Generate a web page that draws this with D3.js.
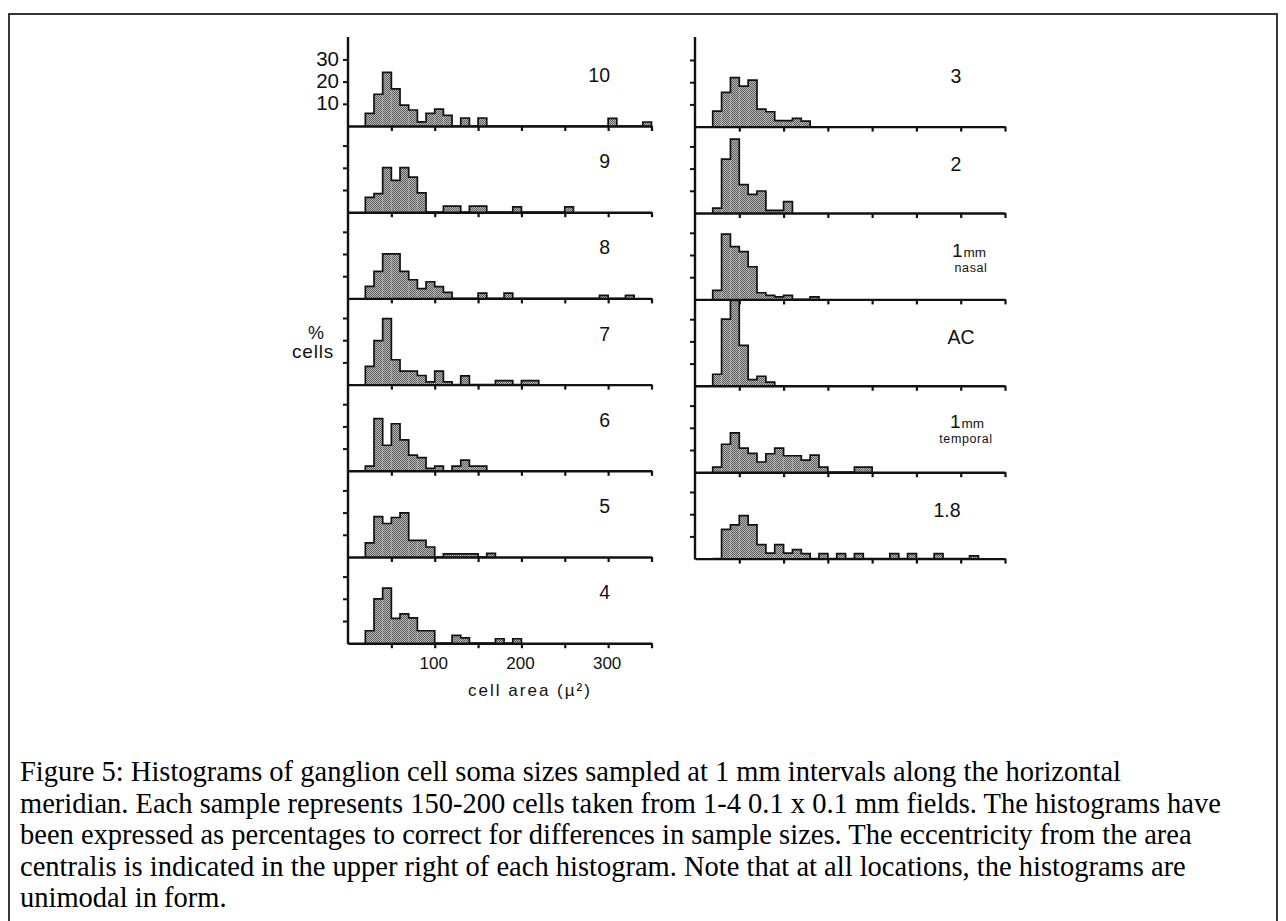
<!DOCTYPE html>
<html><head><meta charset="utf-8">
<script src="https://cdn.jsdelivr.net/npm/d3@7"></script>
<style>
html,body{margin:0;padding:0;background:#fff;}
svg{display:block;}
</style></head>
<body>
<svg id="chart" width="1286" height="921"></svg>
<script>
// ---------- DATA (percent of cells per 10 µ² bin, first bin = 20-30 µ²) ----------
const binWidth = 10;
const firstBin = 20;
const pct10 = [5.7,14.3,24.2,16.7,9.4,7.2,1.9,5.7,7.6,4.8,0,3.6,0,3.6,0,0,0,0,0,0,0,0,0,0,0,0,0,0,3.4,0,0,0,1.8];
const pct9  = [6.7,8.4,20.1,14.3,20.1,15.8,8.7,0,0,2.7,2.7,0,2.7,2.7,0,0,0,2.4,0,0,0,0,0,2.4];
const pct8  = [5.4,12.2,20.1,20.1,12.2,8.4,4.4,7.5,5.3,2.7,0,0,0,2.4,0,0,2.4,0,0,0,0,0,0,0,0,0,0,1.4,0,0,1.4];
const pct7  = [8.2,19.8,29.7,11.2,6.1,6.1,4.1,1.2,6.1,1.2,0,3.9,0,0,0,1.8,1.8,0,1.8,1.8];
const pct6  = [2.1,23.5,11.5,21.2,13.9,7.1,5.9,1.1,2.1,0,2.1,4.8,2.1,2.1];
const pct5  = [6.4,18.2,15.1,17.8,19.9,7.5,7.5,4.5,0,1.4,1.4,1.4,1.4,0,1.6];
const pct4  = [5.6,20,24.8,11.2,13.2,11.4,5.6,5.6,0,0,3.5,2.4,0,0,0,2,0,2];
const pct3  = [7,15.4,22.1,18.2,20.9,7.9,6.7,2.7,2.7,3.7,2.5];
const pct2  = [2.2,24.3,33.3,12.8,8.4,9.9,1.2,1.2,5.1];
const pct1nasal = [4.1,29.4,23.8,21.5,14.7,3.0,1.8,1.1,1.8,0,0,1.1];
const pctAC = [5.2,30,38.5,18.2,2.8,4.3,1.7];
const pct1temporal = [2.3,12.6,17.7,10.8,8.5,4.6,8.3,10.8,7.4,7.4,5.4,7.7,2.3,0,0,0,2.3,2.3];
const pct18 = [0,13.2,15.2,19.4,15.2,6.3,2.5,6.3,2.5,4,2.2,0,2.2,0,2.2,0,2.2,0,0,0,2.2,0,2.2,0,0,2.2,0,0,0,1.2];

const leftSeries = [pct10, pct9, pct8, pct7, pct6, pct5, pct4];
const rightSeries = [pct3, pct2, pct1nasal, pctAC, pct1temporal, pct18];
const leftLabels = ["10","9","8","7","6","5","4"];
const rightLabels = ["3","2","1mm nasal","AC","1mm temporal","1.8"];

const xDomain = [0, 350];
const yTickValues = [10, 20, 30];
const xTickValues = [50,100,150,200,250,300,350];
const xTickLabels = [100,200,300];
const yTitle = ["%", "cells"];
const xTitle = "cell area (\u00B5\u00B2)";
const captionLines = [
  "Figure 5: Histograms of ganglion cell soma sizes sampled at 1 mm intervals along the horizontal",
  "meridian. Each sample represents 150-200 cells taken from 1-4 0.1 x 0.1 mm fields. The histograms have",
  "been expressed as percentages to correct for differences in sample sizes. The eccentricity from the area",
  "centralis is indicated in the upper right of each histogram. Note that at all locations, the histograms are",
  "unimodal in form."
];

// ---------- LAYOUT ----------
const SANS = "'Liberation Sans', Arial, Helvetica, sans-serif";
const SERIF = "'Liberation Serif', 'Times New Roman', serif";
const INK = "#111";
const unit10 = 22.2;       // px per 10 %

const svg = d3.select("#chart");
const defs = svg.append("defs");
const pat = defs.append("pattern").attr("id","stip").attr("width",2).attr("height",2)
  .attr("patternUnits","userSpaceOnUse");
pat.append("rect").attr("width",2).attr("height",2).attr("fill","#b8b8b8");
pat.append("rect").attr("width",1).attr("height",1).attr("fill","#5c5c5c");
pat.append("rect").attr("x",1).attr("y",1).attr("width",1).attr("height",1).attr("fill","#5c5c5c");

// border
svg.append("rect").attr("x",9).attr("y",14).attr("width",1268).attr("height",940)
  .attr("fill","none").attr("stroke","#222").attr("stroke-width",1.8);

const columns = [
  { series: leftSeries, labels: leftLabels,
    x: d3.scaleLinear().domain(xDomain).range([348, 651.5]),
    base0: 126, step: 86.2, axisTop: 37, side: "left" },
  { series: rightSeries, labels: rightLabels,
    x: d3.scaleLinear().domain(xDomain).range([695, 1005]),
    base0: 126.6, step: 86.4, axisTop: 37, side: "right" }
];

// label placement (layout only)
const rightLabelLayout = [
  {cx: 956, dy: -44},
  {cx: 956, dy: -42},
  {x1: 952, dy: -42, subCx: 971, subDy: -27.5},
  {cx: 961, dy: -42},
  {x1: 950, dy: -44, subCx: 966, subDy: -29.5},
  {cx: 947, dy: -42}
];

function drawPanel(g, values, x, base, showYLabels) {
  const y = d3.scaleLinear().domain([0, 10]).range([base, base - unit10]);
  const bins = values.map((v, i) => ({x0: firstBin + i*binWidth, x1: firstBin + (i+1)*binWidth, v}));
  g.selectAll(null).data(bins.filter(d => d.v > 0)).join("rect")
    .attr("x", d => x(d.x0)).attr("width", d => x(d.x1) - x(d.x0))
    .attr("y", d => y(d.v)).attr("height", d => base - y(d.v))
    .attr("fill", "url(#stip)");
  const p = d3.path();
  p.moveTo(x(bins[0].x0), base);
  bins.forEach(d => { p.lineTo(x(d.x0), y(d.v)); p.lineTo(x(d.x1), y(d.v)); });
  p.lineTo(x(bins[bins.length-1].x1), base);
  g.append("path").attr("d", p.toString()).attr("fill","none")
    .attr("stroke", INK).attr("stroke-width", 1.7).attr("stroke-linejoin","miter");

  // x axis
  const xa = g.append("g").attr("transform", `translate(0,${base})`)
    .call(d3.axisBottom(x).tickValues(xTickValues).tickSize(5).tickSizeOuter(0).tickFormat(""));
  xa.select(".domain").attr("stroke", INK).attr("stroke-width", 2.4);
  xa.selectAll(".tick line").attr("stroke", INK).attr("stroke-width", 2.2);

  // y ticks
  const ya = g.append("g").attr("transform", `translate(${x(0)},0)`)
    .call(d3.axisLeft(y).tickValues(yTickValues).tickSize(5)
      .tickFormat(showYLabels ? d3.format("d") : ""));
  ya.select(".domain").remove();
  ya.selectAll(".tick line").attr("stroke", INK).attr("stroke-width", 2);
  ya.selectAll(".tick text").attr("font-family", SANS).attr("font-size", 20.5)
    .attr("fill", INK).attr("x", -9).attr("dy", "0.3em");
  return y;
}

columns.forEach((col, ci) => {
  const g = svg.append("g");
  const lastBase = col.base0 + (col.series.length - 1) * col.step;
  col.series.forEach((vals, i) => {
    const base = col.base0 + i * col.step;
    drawPanel(g, vals, col.x, base, ci === 0 && i === 0);
    const lab = col.labels[i];
    if (col.side === "left") {
      g.append("text").attr("x", 610).attr("y", base - 44).attr("text-anchor","end")
        .attr("font-family", SANS).attr("font-size", 19.5).attr("fill", INK).text(lab);
    } else {
      const L = rightLabelLayout[i];
      if (lab.startsWith("1mm")) {
        const t = g.append("text").attr("x", L.x1).attr("y", base + L.dy)
          .attr("font-family", SANS).attr("fill", INK);
        t.append("tspan").attr("font-size", 19).text("1");
        t.append("tspan").attr("font-size", 13.5).attr("dx", 1).text("mm");
        g.append("text").attr("x", L.subCx).attr("y", base + L.subDy).attr("text-anchor","middle")
          .attr("font-family", SANS).attr("font-size", 12.5).attr("letter-spacing", 0.6)
          .attr("fill", INK).text(lab.split(" ")[1]);
      } else {
        g.append("text").attr("x", L.cx).attr("y", base + L.dy).attr("text-anchor","middle")
          .attr("font-family", SANS).attr("font-size", 19.5).attr("fill", INK).text(lab);
      }
    }
  });
  // long y axis line
  g.append("line").attr("x1", col.x(0)).attr("x2", col.x(0))
    .attr("y1", col.axisTop).attr("y2", lastBase + 1)
    .attr("stroke", INK).attr("stroke-width", 2.4);

  if (col.side === "left") {
    g.selectAll(null).data(xTickLabels).join("text")
      .attr("x", d => col.x(d) - 1).attr("y", lastBase + 26).attr("text-anchor","middle")
      .attr("font-family", SANS).attr("font-size", 17).attr("fill", INK).text(d => d);
    g.append("text").attr("x", 530).attr("y", lastBase + 53).attr("text-anchor","middle")
      .attr("font-family", SANS).attr("font-size", 17).attr("letter-spacing", 2)
      .attr("fill", INK).text(xTitle);
  }
});

// y title
svg.append("text").attr("x", 316).attr("y", 339).attr("text-anchor","middle")
  .attr("font-family", SANS).attr("font-size", 18).attr("fill", INK).text(yTitle[0]);
svg.append("text").attr("x", 313).attr("y", 357.5).attr("text-anchor","middle")
  .attr("font-family", SANS).attr("font-size", 19).attr("letter-spacing", 0.8)
  .attr("fill", INK).text(yTitle[1]);

// caption
svg.append("g").selectAll("text").data(captionLines).join("text")
  .attr("x", 20).attr("y", (d, i) => 781 + i * 31.5)
  .attr("font-family", SERIF).attr("font-size", 28.5).attr("fill", "#000").text(d => d);
</script>
</body></html>
